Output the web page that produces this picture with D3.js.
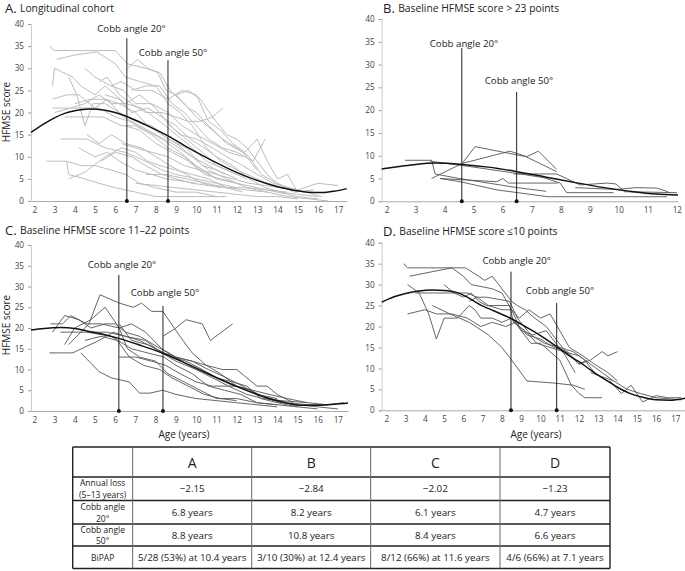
<!DOCTYPE html>
<html><head><meta charset="utf-8">
<script src="https://cdn.jsdelivr.net/npm/d3@7"></script>
<style>
body{margin:0;background:#fff;}
svg{display:block;font-family:"Open Sans",sans-serif;}
</style></head>
<body><svg id="c" width="685" height="571"></svg>
<script>
// ---------- data ----------
const yTicks = [0,5,10,15,20,25,30,35,40];
const xTicksLong = [2,3,4,5,6,7,8,9,10,11,12,13,14,15,16,17];
const xTicksShort = [2,3,4,5,6,7,8,9,10,11,12];

const panelTitles = ["Longitudinal cohort","Baseline HFMSE score > 23 points","Baseline HFMSE score 11–22 points","Baseline HFMSE score ≤10 points"];
const panelLetters = ["A.","B.","C.","D."];
const cobbLabels = ["Cobb angle 20°","Cobb angle 50°"];

// Cobb angle marker ages (as drawn) and top of marker (score units)
const cobbA = [6.57, 8.6];   const cobbTopA = [36.8, 31.8];
const cobbB = [4.59, 6.48];  const cobbTopB = [33.6, 24.0];
const cobbC = [6.18, 8.36];  const cobbTopC = [32.8, 25.3];
const cobbD = [8.47, 10.84]; const cobbTopD = [33.1, 25.6];

const trendA = [[1.84,15.5],[2.5,17.5],[3,18.8],[3.5,19.8],[4,20.4],[4.7,20.8],[5.5,20.5],[6.57,19.1],[7.5,17.2],[8.6,14.7],[9.5,12.3],[10.5,9.8],[11.5,7.5],[12.5,5.5],[13.5,3.9],[14.5,2.7],[15.5,2.0],[16.2,1.9],[16.8,2.2],[17.42,2.8]];
const trendB = [[1.83,7.1],[2.5,7.7],[3,8.1],[3.7,8.4],[4.6,8.1],[5.5,7.5],[6.5,6.5],[7.5,5.3],[8.5,4.1],[9.5,3],[10.5,2.1],[11.3,1.6],[12.04,1.4]];
const trendC = [[1.84,19.5],[2.5,19.9],[3.3,20.1],[4,19.9],[4.6,19.3],[5.4,18.5],[6.18,17.5],[7.2,15.9],[8.36,13.9],[9.3,11.9],[10.2,9.9],[11.2,7.6],[12.2,5.5],[13,4],[13.8,2.7],[14.5,1.9],[15.2,1.4],[16.1,1.4],[16.8,1.6],[17.5,1.9]];
const trendD = [[1.76,25.8],[2.4,27.1],[3,27.9],[3.7,28.5],[4.4,28.7],[5,28.6],[5.6,28.2],[6.2,27],[6.83,25.3],[7.6,23.7],[8.47,21.9],[9.2,20],[9.94,18],[10.84,15.2],[11.5,13],[12,11.6],[12.7,9.3],[13.4,7.2],[14,5.5],[14.6,4.1],[15.3,3.1],[16,2.5],[16.7,2.4],[17.5,2.9]];

const linesA = [
 [[2.75,35],[3,34],[4,34],[5,34],[6,34],[6.6,31],[7.5,30],[8.2,29],[8.7,25],[9.4,22],[10,19],[10.8,16],[11.5,13],[12.3,11],[13,7]],
 [[3.1,32],[4,33],[5.1,33.7],[6,31],[6.5,28],[7.2,27],[8,26],[8.6,22],[9.2,20],[9.8,17],[10.5,12],[11.2,9],[12,7],[13,5],[14,3]],
 [[6.6,30],[7.1,32],[7.6,30],[8.1,29],[8.5,25],[9,24],[9.6,21],[10,20],[10.6,17],[11.3,14],[12,12],[12.6,10],[13.2,6],[14,4],[15,2]],
 [[2.9,26],[3,30],[3.9,28],[4.3,26],[5,24],[5.5,26],[6,24],[6.5,22],[7.3,21],[8.2,18],[9,15],[9.8,12],[10.5,9],[11.5,7],[12.5,5]],
 [[3.7,28],[4.1,24],[4.5,17],[4.9,22],[5.5,22],[6.2,20],[7,18],[7.8,17],[8.6,14],[9.5,12],[10.3,8],[11,7],[12,5]],
 [[2.9,23],[3.6,24],[4.2,24],[5,21],[5.6,23],[6.4,19],[7.2,17],[8,15],[8.8,13],[9.8,10],[10.6,8],[11.4,6]],
 [[2.9,21],[4,21],[5.2,21],[6,19],[6.7,18],[7.5,16],[8.3,14],[9.2,11],[10,8],[11,5],[12,4]],
 [[3.5,19],[4.5,19],[5.4,19],[6.3,17],[7,17],[7.8,15],[8.6,12],[9.4,10],[10.2,7],[11,5]],
 [[4.5,30],[5,28],[5.8,26],[6.3,27],[7,25],[7.8,25],[8.6,23],[9.3,25],[10,24],[10.6,18],[11.2,16],[11.8,13],[12.4,11],[13,14],[13.5,9],[14,5],[14.5,6],[15,2]],
 [[5.2,27],[5.6,28],[6.2,24],[6.8,22],[7.5,20],[8.3,20],[9,19],[9.6,18],[10.2,18],[10.8,19],[11.3,21]],
 [[3.3,14],[4.6,14],[5.5,12],[6.5,11],[7.5,9],[8.3,7],[9,6],[10,5],[11,4],[12,3]],
 [[2.6,9],[3.6,9],[4.3,8],[5,8],[5.8,7],[6.5,6],[7.2,4],[8,3],[9,2],[10,2],[11,1]],
 [[3.6,9],[3.7,6],[4.5,5],[5.2,4],[6,3],[7,2],[8,1],[9,1],[10,1],[11.5,1]],
 [[3.7,5],[4.5,6.5],[5.5,10],[6.3,12],[7,11],[7.6,9],[8.2,8],[9,7],[9.8,6],[10.6,5],[11.5,3],[12.3,2]],
 [[4.6,15],[5.2,13],[5.8,15],[6.5,13],[7.3,12],[8,10],[8.7,8],[9.5,6],[10.3,4],[11.2,3]],
 [[6.8,25],[7.5,26],[8.2,26],[8.8,22],[9.4,20],[10,17],[10.6,14],[11.3,12],[12,11],[12.8,9],[13.4,14]],
 [[5.5,24],[6.2,23],[6.8,20],[7.6,21],[8.3,19],[9,17],[9.7,14],[10.4,12],[11,10],[11.8,8],[12.6,5],[13.4,3],[14.2,2],[15,1.5],[16,1]],
 [[4,22],[4.8,23],[5.5,23],[6.2,22],[7,20],[7.6,17],[8.3,15],[9,13],[9.8,10],[10.6,7],[11.5,5],[12.5,3],[13.5,2],[14.5,1],[15.5,0.5],[16.5,0]],
 [[6.5,17],[7.2,16],[8,13],[8.8,11],[9.6,9],[10.4,6],[11.2,5],[12,4],[13,3],[14,2],[15,1],[16,0.5]],
 [[5.3,9],[6,11],[6.8,10],[7.5,8],[8.3,6],[9,5],[9.8,4],[10.6,3.5],[11.5,3],[12.5,2.5],[13.5,2]],
 [[7.5,6],[8.5,6],[9.5,5],[10.5,4],[11.5,3],[12.5,3],[13.5,2.5],[14.5,2]],
 [[6.3,13],[7,12],[7.8,11],[8.6,10],[9.4,8],[10.2,7],[11,6],[11.8,5],[12.6,4],[13.4,3.5],[14.2,3],[15,2.5],[16,4],[17,3.5]],
 [[8.5,18],[9.2,15],[10,14],[10.8,12],[11.5,10],[12.3,8],[13,6],[13.8,4],[14.6,3],[15.4,2],[16.2,1]],
 [[9,24],[9.6,25],[10.2,23],[10.8,19],[11.5,15],[12,14],[12.5,12],[13,9],[13.5,6],[14,4],[14.8,2],[15.8,2.5]],
 [[7,4],[8,3.5],[9,3],[10,2.5],[11,2],[12,1.5],[13,1],[14,1],[15,0.5]],
 [[3,20],[3.8,21],[4.5,22],[5.2,24],[5.8,22],[6.5,22],[7.2,24],[8,21],[8.7,17],[9.5,14],[10.3,11],[11,8],[12,6]],
 [[5.8,26],[6.4,25],[7,22],[7.8,22],[8.6,20],[9.3,17],[10,15],[10.8,13],[11.6,11],[12.3,10]],
 [[4.2,12],[5,10],[5.6,11],[6.2,9],[7,7],[7.8,6],[8.5,5],[9.3,4.5],[10,4]]
];
const linesB = [
 [[2.63,9],[3.55,9],[3.67,6],[4.5,5],[5.5,4],[6.5,3],[7.5,2.2]],
 [[3.55,5],[4.6,8.3],[5.05,12],[6,10.8],[6.8,9.8],[7.86,6.5]],
 [[4.6,8.3],[6.25,11],[6.83,9.8],[7.23,11],[7.86,7]],
 [[3.84,5],[4.53,4.3],[5.8,2.5],[7.57,1],[11.66,1]],
 [[3.84,5],[5.8,4.3],[6.0,5],[6.2,4],[7.9,4]],
 [[3.5,8.8],[5,7.5],[6.4,6.2],[7.4,5.2],[7.98,4],[8.2,1.9],[9.82,1.9]],
 [[6.37,6],[7.86,6],[8.67,3.6],[9.6,4],[9.9,3.8],[10.2,2.1],[12,1.9]],
 [[8.5,3],[9.9,2.6],[10.6,3],[11.3,2.9],[11.7,2.1]]
];
const linesC = [
 [[2.75,14],[3.9,14],[5.2,17],[5.9,19],[6.5,18],[7.5,17],[8.3,14],[9,12],[10,10],[11,8],[12,6],[13,4],[14,3]],
 [[3.7,16],[4.7,21],[5.25,28],[6.2,26],[6.9,25],[7.3,26],[7.8,24],[8.35,24],[9.2,18],[9.8,14],[10.5,11],[11.2,9],[12,6],[12.8,5],[13.6,4],[14.5,3],[15.5,2]],
 [[8.35,18],[9,20],[9.5,22],[10.3,21],[10.7,17],[11.8,21]],
 [[2.8,21],[3.4,21],[3.8,23],[4.6,21],[5.3,21],[6.2,20],[6.8,21],[7.5,19],[8.3,15],[9,13],[9.8,12],[10.5,11],[11.3,10],[12,10],[12.5,8],[13,6],[13.5,6],[14,4],[14.8,2]],
 [[2.9,19],[3.5,23],[4.2,22],[4.8,20],[5.5,21],[6,21],[6.5,19],[7.2,18],[7.9,16],[8.6,14],[9.3,12],[10,10],[10.8,8],[11.6,6],[12.5,4],[13.3,3],[14.2,2.5],[15.5,2],[16.5,1.5]],
 [[4.3,14],[5.2,9.5],[5.8,8],[6.7,7],[7.2,4.3],[7.7,4.3],[8.35,5],[9,4],[10,3],[11,2.5],[12,2],[13,1.5],[14,1]],
 [[3.5,16],[4,20],[4.8,22],[5.5,25],[6.2,20],[6.6,15],[7.2,13],[8,12],[8.6,9],[9.4,7],[10.2,5],[11,3],[12,3],[13,2],[14,1.5]],
 [[4.5,17],[5.3,18],[6.1,17],[6.7,13],[7.4,11],[8.2,10],[8.8,8],[9.6,6],[10.4,4],[11.2,3],[12,2.5]],
 [[6.2,13],[7,13],[7.8,12],[8.5,11],[9.2,9],[10,7],[10.8,6],[11.5,6],[12,6],[12.7,5],[13.5,3],[14.2,2],[15,1.5],[16,1],[17,0.5]],
 [[6.2,21],[6.8,17],[7.6,16],[8.4,14],[9,13],[9.8,12],[10.6,10],[11.5,8],[12.3,6],[13,4],[13.7,3],[14.5,2],[15.5,1.5],[16.5,1.5],[17.3,2]],
 [[4.6,19],[5.6,19],[6.5,18],[7.2,17],[8,15],[8.8,13],[9.5,12],[10.3,10],[11,8],[11.8,7],[12.5,6],[13.2,3],[14,2],[15,1]],
 [[3.3,19],[4.6,19],[5.8,18],[6.8,15],[7.6,14],[8.4,13],[9,11],[9.8,9],[10.6,6],[11.4,5],[12.2,4],[13,2],[14,1.5],[15,1],[16,0.5]]
];
const linesD = [
 [[2.9,35],[3.1,34],[6.1,34],[6.8,32],[7.1,31],[7.5,32],[8,29],[8.5,26],[8.8,25],[9.2,24],[9.7,22],[10.3,20],[10.8,17],[11.3,14],[12,11],[12.4,12]],
 [[3.2,32],[5.4,34],[6,32],[6.4,30],[7.5,29],[8,28],[8.5,24],[9,19],[9.5,16],[10,16],[10.5,14],[11,12],[11.6,6],[12,4],[12.3,3],[13.2,3]],
 [[3.1,30],[3.7,28],[4.2,23],[4.6,17],[5,22],[5.7,22],[6.3,25],[6.6,24],[6.9,22],[7.5,22],[8,21],[8.5,22],[9,19],[9.6,18],[10.3,19],[10.8,16],[11.3,13],[11.8,9]],
 [[3.1,23],[4,24],[4.6,23],[5.4,23],[6.2,22],[6.9,20],[7.5,21],[8.2,20],[8.7,21],[9.3,18],[10,17],[10.7,15],[11.4,14],[12,11],[12.6,12],[13.2,14],[13.5,13],[14,14]],
 [[3.5,28],[4.5,28],[5.5,28],[6.2,28],[6.7,27],[7.2,27],[8.4,26],[8.8,22],[9.5,18],[10.2,16],[11,15],[11.7,14],[12.3,12],[12.8,9]],
 [[4.4,25],[5.3,23],[6.3,21],[7.3,18],[8,15],[8.5,12],[9.3,7],[10.7,6.5],[11.7,6],[12.3,5]],
 [[5,30],[5.5,28],[6,27],[6.4,28],[6.8,26],[7.2,25],[8.4,25],[8.6,21],[9.2,19],[9.8,16],[10.5,15],[11.2,14],[12,13],[12.6,11],[13.2,9],[13.8,7]],
 [[6.3,26],[6.7,27],[7.3,25],[8,24],[8.5,24],[8.9,22],[9.4,24],[10,22],[10.5,23],[11,19],[11.5,15],[12.2,13],[12.8,11],[13.5,9],[14,7]],
 [[13.6,7],[14.2,4],[14.7,6],[15.3,2],[16,3.5],[16.6,3],[17.3,3]],
 [[12.6,9],[13.2,8],[13.8,7],[14.5,5],[15.2,4],[16,3],[17.3,2.5]]
];

// table
const tableCols = ["A","B","C","D"];
const rowLabels = [["Annual loss","(5–13 years)"],["Cobb angle","20°"],["Cobb angle","50°"],["BiPAP"]];
const annualLoss = ["−2.15","−2.84","−2.02","−1.23"];
const cobb20Age = ["6.8 years","8.2 years","6.1 years","4.7 years"];
const cobb50Age = ["8.8 years","10.8 years","8.4 years","6.6 years"];
const bipap = ["5/28 (53%) at 10.4 years","3/10 (30%) at 12.4 years","8/12 (66%) at 11.6 years","4/6 (66%) at 7.1 years"];

// ---------- layout ----------
const svg = d3.select("#c");
const panels = [
 {i:0, lines:linesA, trend:trendA, cobb:cobbA, cobbTop:cobbTopA, xTicks:xTicksLong, xd:[1.84,17.42], xr:[31,346.7], yr:[201,24],
  title:[5,8], ylab:[6,112], xlab:null, lab:[[131.5,28],[173,52]], lineColor:"#bdbdbd", lw:1},
 {i:1, lines:linesB, trend:trendB, cobb:cobbB, cobbTop:cobbTopB, xTicks:xTicksShort, xd:[1.83,12.04], xr:[381.7,678], yr:[201.3,19],
  title:[383,8], ylab:null, xlab:null, lab:[[464,43],[519,80]], lineColor:"#555", lw:0.9},
 {i:2, lines:linesC, trend:trendC, cobb:cobbC, cobbTop:cobbTopC, xTicks:xTicksLong, xd:[1.84,17.5], xr:[31,348], yr:[411,245],
  title:[5,230], ylab:[6,325], xlab:[184,434], lab:[[122,264],[165,292]], lineColor:"#555", lw:0.9},
 {i:3, lines:linesD, trend:trendD, cobb:cobbD, cobbTop:cobbTopD, xTicks:xTicksLong, xd:[1.76,17.5], xr:[381.7,685], yr:[410.3,242.7],
  title:[383,231], ylab:null, xlab:[536,434], lab:[[516.7,260],[560,290]], lineColor:"#555", lw:0.9}
];

panels.forEach(p => {
  const x = d3.scaleLinear().domain(p.xd).range(p.xr);
  const y = d3.scaleLinear().domain([0,40]).range(p.yr);
  const g = svg.append("g");

  const t = g.append("text").attr("x", p.title[0]).attr("y", p.title[1]).attr("dominant-baseline","central").attr("fill","#222");
  t.append("tspan").attr("font-size",13).text(panelLetters[p.i] + " ");
  t.append("tspan").attr("font-size",10.3).text(panelTitles[p.i]);

  const ya = d3.axisLeft(y).tickValues(yTicks).tickSize(3).tickPadding(4);
  const yg = g.append("g").attr("transform",`translate(${p.xr[0]},0)`).call(ya);
  yg.select(".domain").attr("stroke","#ccc");
  yg.selectAll(".tick line").attr("stroke","#999");
  yg.selectAll("text").attr("font-size",8.2).attr("fill","#444").attr("font-family","Open Sans, sans-serif");

  const xa = d3.axisBottom(x).tickValues(p.xTicks).tickSize(0).tickPadding(6).tickFormat(d3.format("d"));
  const xg = g.append("g").attr("transform",`translate(0,${p.yr[0]})`).call(xa);
  xg.select(".domain").attr("stroke","#aaa");
  xg.selectAll("text").attr("font-size",8.2).attr("fill","#444").attr("font-family","Open Sans, sans-serif");

  const line = d3.line().x(d=>x(d[0])).y(d=>y(d[1]));
  g.append("g").selectAll("path").data(p.lines).join("path")
    .attr("d", line).attr("fill","none").attr("stroke", p.lineColor).attr("stroke-width", p.lw).attr("stroke-linejoin","round");

  const tl = d3.line().x(d=>x(d[0])).y(d=>y(d[1])).curve(d3.curveMonotoneX);
  g.append("path").attr("d", tl(p.trend)).attr("fill","none").attr("stroke","#111").attr("stroke-width",1.5);

  p.cobb.forEach((c,k) => {
    g.append("line").attr("x1",x(c)).attr("x2",x(c)).attr("y1",y(p.cobbTop[k])).attr("y2",y(0))
      .attr("stroke","#222").attr("stroke-width",1);
    g.append("circle").attr("cx",x(c)).attr("cy",y(0)).attr("r",2).attr("fill","#111");
    g.append("text").attr("x",p.lab[k][0]).attr("y",p.lab[k][1]).attr("text-anchor","middle")
      .attr("dominant-baseline","central").attr("font-size",9.7).attr("fill","#222").text(cobbLabels[k]);
  });

  if (p.ylab) g.append("text").attr("transform",`translate(${p.ylab[0]},${p.ylab[1]}) rotate(-90)`)
      .attr("text-anchor","middle").attr("dominant-baseline","central").attr("font-size",10).attr("fill","#222").text("HFMSE score");
  if (p.xlab) g.append("text").attr("x",p.xlab[0]).attr("y",p.xlab[1]).attr("text-anchor","middle")
      .attr("dominant-baseline","central").attr("font-size",10).attr("fill","#222").text("Age (years)");
});

// ---------- table ----------
const colX = [72.7,132.7,251.7,370.7,500,610];
const rowY = [447,477,500.5,524,546,568.5];
const tg = svg.append("g");
rowY.forEach(yy => tg.append("line").attr("x1",colX[0]).attr("x2",colX[5]).attr("y1",yy).attr("y2",yy).attr("stroke","#222").attr("stroke-width",1.6));
colX.forEach((xx,k) => tg.append("line").attr("x1",xx).attr("x2",xx).attr("y1",rowY[0]).attr("y2",rowY[5])
  .attr("stroke", (k===0||k===5)?"#222":"#666").attr("stroke-width",(k===0||k===5)?1.4:1));
const cx = k => (colX[k]+colX[k+1])/2;
const cy = r => (rowY[r]+rowY[r+1])/2;
tableCols.forEach((c,k)=> tg.append("text").attr("x",cx(k+1)).attr("y",cy(0)).attr("text-anchor","middle")
  .attr("dominant-baseline","central").attr("font-size",14).attr("fill","#222").text(c));
rowLabels.forEach((lab,r)=>{
  const n = lab.length;
  lab.forEach((s,j)=> tg.append("text").attr("x",cx(0)).attr("y",cy(r+1) + (j-(n-1)/2)*11.8)
    .attr("text-anchor","middle").attr("dominant-baseline","central").attr("font-size",8.5).attr("fill","#222").text(s));
});
[annualLoss,cobb20Age,cobb50Age,bipap].forEach((arr,r)=>{
  arr.forEach((s,k)=> tg.append("text").attr("x",cx(k+1)).attr("y",cy(r+1)).attr("text-anchor","middle")
    .attr("dominant-baseline","central").attr("font-size",9.8).attr("fill","#222").text(s));
});
</script></body></html>
